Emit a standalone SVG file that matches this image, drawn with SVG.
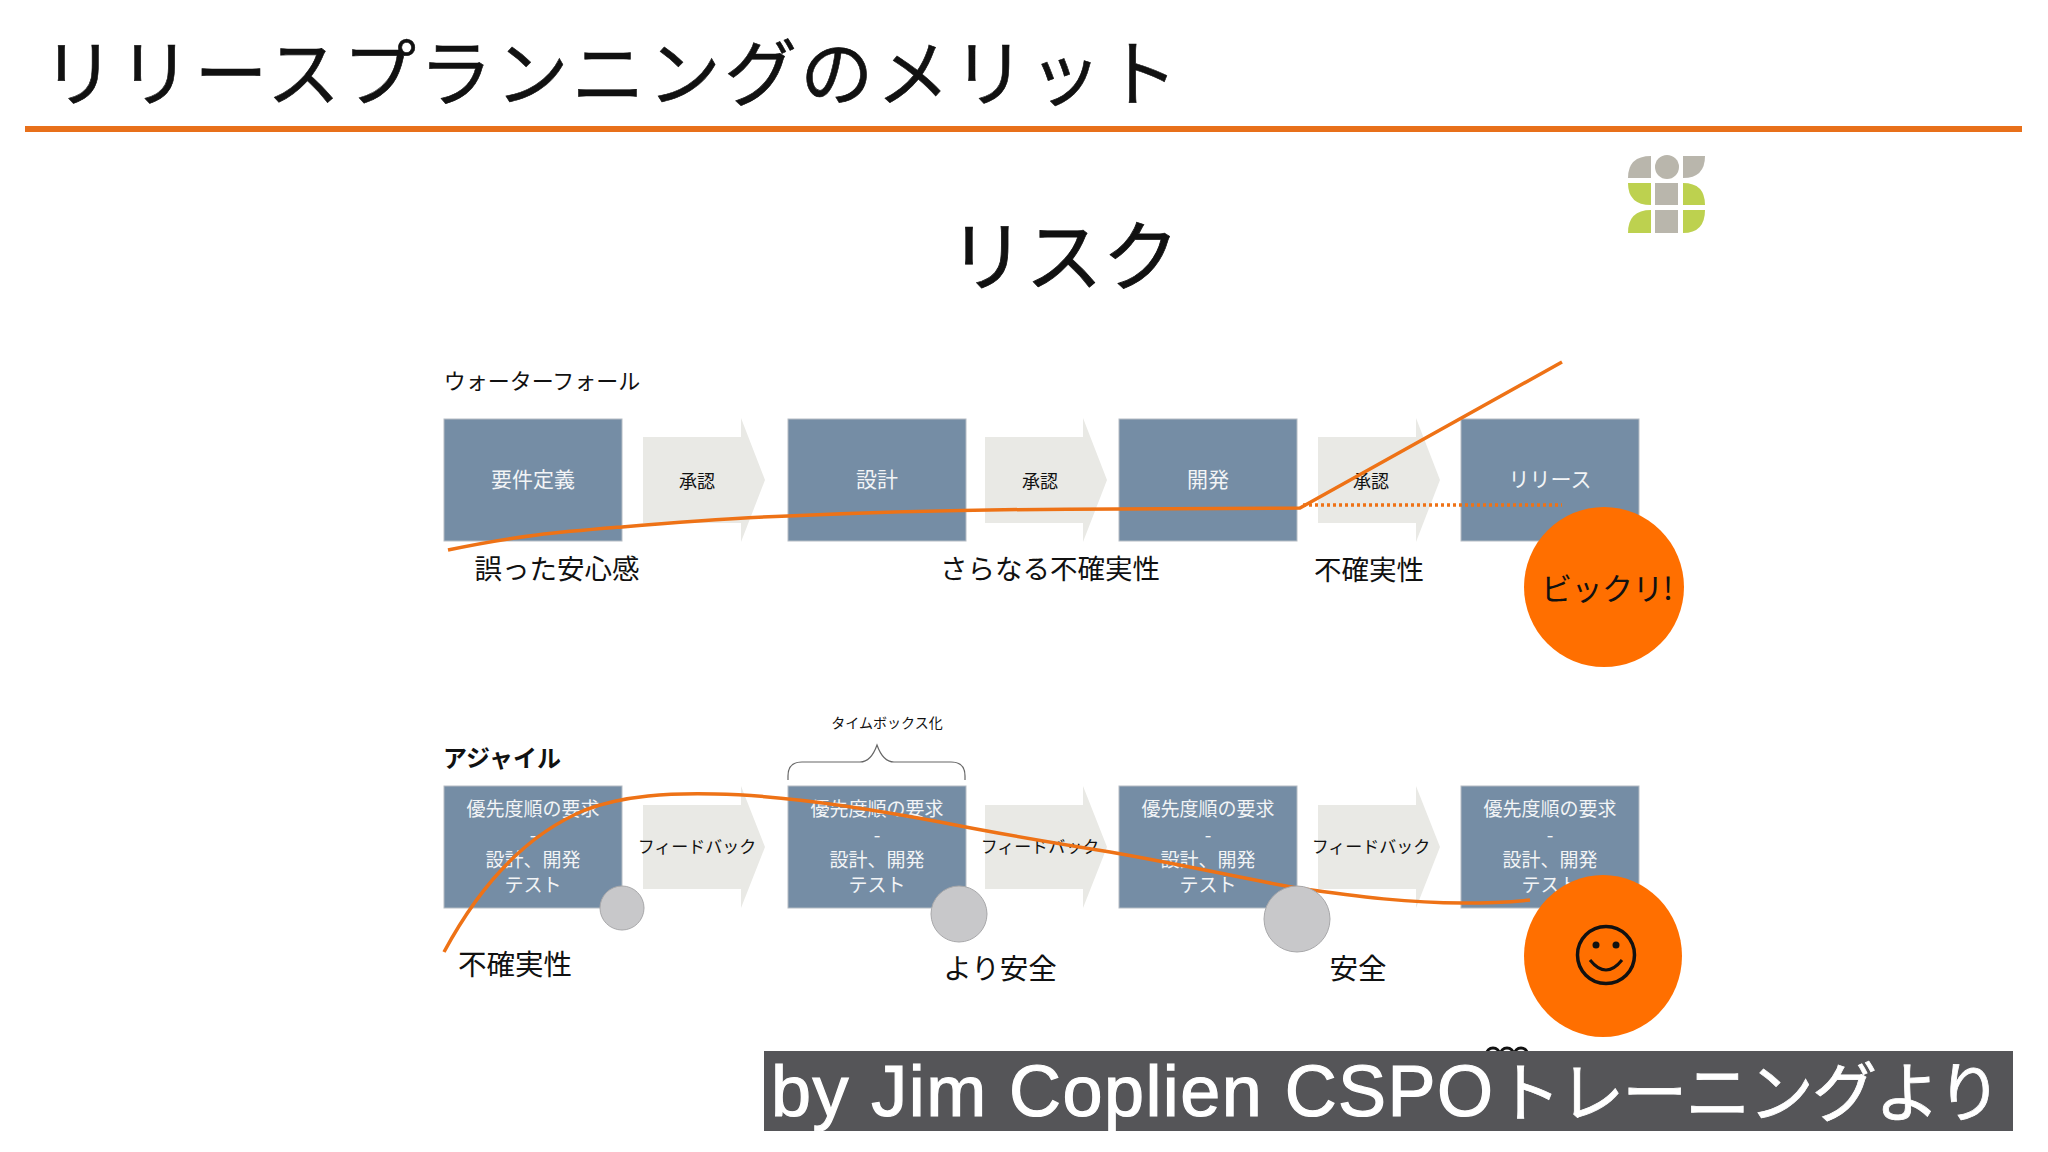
<svg xmlns="http://www.w3.org/2000/svg" width="2048" height="1152" viewBox="0 0 2048 1152">
<style>
text{font-family:"Noto Sans CJK JP","Noto Sans",sans-serif;text-anchor:middle;dominant-baseline:central;fill:#111}
.box{fill:#758da5;stroke:#b5bcc4;stroke-width:1}
.chev{fill:#e9e9e5}
.bt{fill:#f2f4f6;font-size:21px}
.bs{fill:#f2f4f6;font-size:19px}
.a{font-size:18px}
.f{font-size:17px}
.l{font-size:27.5px}
.m{font-size:28.5px}
.gray{fill:#c8c8ca;stroke:#a8a8aa;stroke-width:1}
.big{fill:#ff6f00}
.cv{fill:none;stroke:#ee7216;stroke-width:3.5;stroke-linejoin:round}
.lg{fill:#b9b6ac}
.lc{fill:#bdd14f}
</style>
<defs>
<path id="chev" class="chev" d="M0 19H98V0L122 62L98 124V105H0Z"/>
<path id="chevb" class="chev" d="M0 19H98V0L122 61L98 122V103H0Z"/>
</defs>
<rect width="2048" height="1152" fill="#fff"/>
<g id="title">
<text x="610" y="68" font-size="73" textLength="1136" lengthAdjust="spacing" stroke="#111" stroke-width="0.6">リリースプランニングのメリット</text>
<rect x="25" y="126" width="1997" height="6" fill="#e8701a"/>
</g>
<g id="logo">
<path class="lg" d="M1628 178H1651V156Q1628 156 1628 178Z"/>
<circle class="lg" cx="1667" cy="167" r="12"/>
<path class="lg" d="M1683 156H1705Q1705 178 1683 178Z"/>
<path class="lc" d="M1628 183H1651V205Q1628 205 1628 183Z"/>
<rect class="lg" x="1655" y="183" width="23" height="22"/>
<path class="lc" d="M1683 183Q1705 183 1705 205H1683Z"/>
<path class="lc" d="M1628 233Q1628 210 1651 210V233Z"/>
<rect class="lg" x="1655" y="210" width="23" height="23"/>
<path class="lc" d="M1683 210H1705Q1705 233 1683 233Z"/>
</g>
<g id="risk-heading"><text x="1064" y="251" font-size="77" stroke="#111" stroke-width="0.8">リスク</text></g>
<g id="waterfall-label"><text x="542" y="378.500" font-size="22">ウォーターフォール</text></g>
<g id="wf-1"><rect class="box" x="444" y="419" width="178" height="122"/><text class="bt" x="533" y="478">要件定義</text></g>
<g id="wf-a1"><use href="#chev" x="643" y="418"/><text class="a" x="697" y="480">承認</text></g>
<g id="wf-2"><rect class="box" x="788" y="419" width="178" height="122"/><text class="bt" x="877" y="478">設計</text></g>
<g id="wf-a2"><use href="#chev" x="985" y="418"/><text class="a" x="1040" y="480">承認</text></g>
<g id="wf-3"><rect class="box" x="1119" y="419" width="178" height="122"/><text class="bt" x="1208" y="478">開発</text></g>
<g id="wf-a3"><use href="#chev" x="1318" y="418"/><text class="a" x="1371" y="480">承認</text></g>
<g id="wf-4"><rect class="box" x="1461" y="419" width="178" height="122"/><text class="bt" x="1550" y="478">リリース</text></g>
<g id="agile-label"><text x="502" y="756" font-size="24" font-weight="700">アジャイル</text></g>
<g id="timebox">
<path d="M788 780V776Q788 762 802 762H860Q871 762 877 745Q883 762 894 762H951Q965 762 965 776V780" fill="none" stroke="#666" stroke-width="1.2"/>
<text x="887" y="722" font-size="14">タイムボックス化</text>
</g>
<g id="ag-1"><rect class="box" x="444" y="786" width="178" height="122"/><text class="bs" x="533" y="807">優先度順の要求</text><text class="bs" x="533" y="833">-</text><text class="bs" x="533" y="858">設計、開発</text><text class="bs" x="533" y="883">テスト</text></g>
<g id="ag-a1"><use href="#chevb" x="643" y="786"/><text class="f" x="697" y="845">フィードバック</text></g>
<g id="ag-2"><rect class="box" x="788" y="786" width="178" height="122"/><text class="bs" x="877" y="807">優先度順の要求</text><text class="bs" x="877" y="833">-</text><text class="bs" x="877" y="858">設計、開発</text><text class="bs" x="877" y="883">テスト</text></g>
<g id="ag-a2"><use href="#chevb" x="985" y="786"/><text class="f" x="1040" y="845">フィードバック</text></g>
<g id="ag-3"><rect class="box" x="1119" y="786" width="178" height="122"/><text class="bs" x="1208" y="807">優先度順の要求</text><text class="bs" x="1208" y="833">-</text><text class="bs" x="1208" y="858">設計、開発</text><text class="bs" x="1208" y="883">テスト</text></g>
<g id="ag-a3"><use href="#chevb" x="1318" y="786"/><text class="f" x="1371" y="845">フィードバック</text></g>
<g id="ag-4"><rect class="box" x="1461" y="786" width="178" height="122"/><text class="bs" x="1550" y="807">優先度順の要求</text><text class="bs" x="1550" y="833">-</text><text class="bs" x="1550" y="858">設計、開発</text><text class="bs" x="1550" y="883">テスト</text></g>
<g id="connectors">
<path class="cv" d="M448 550C520 535 560 532 622 527C690 521 730 518 788 516C900 511 1000 509 1119 509L1300 508L1562 362"/>
<path class="cv" d="M1303 505H1562" stroke-dasharray="3 3"/>
<path class="cv" d="M444 952C480 885 525 835 585 810C625 795 670 793 715 794C770 795 850 805 940 822C1010 836 1060 844 1110 852C1190 866 1240 878 1297 888C1360 897 1410 903 1462 903C1490 903 1510 902 1530 900"/>
</g>
<g id="labels">
<text class="l" x="557" y="566.500">誤った安心感</text>
<text class="l" x="1050" y="566.500">さらなる不確実性</text>
<text class="l" x="1369" y="567.500">不確実性</text>
<text class="m" x="515" y="962.500">不確実性</text>
<text class="m" x="1000" y="966.500">より安全</text>
<text class="m" x="1358" y="966.500">安全</text>
</g>
<g id="safety-1"><ellipse class="gray" cx="622" cy="908" rx="22" ry="22"/></g>
<g id="safety-2"><ellipse class="gray" cx="959" cy="914" rx="28" ry="28"/></g>
<g id="safety-3"><ellipse class="gray" cx="1297" cy="919" rx="33" ry="33"/></g>
<g id="surprise"><ellipse class="big" cx="1604" cy="587" rx="80" ry="80"/><text x="1607" y="586" font-size="31" textLength="132" lengthAdjust="spacing">ビックリ!</text></g>
<g id="happy"><ellipse class="big" cx="1603" cy="956" rx="79" ry="81"/>
<circle cx="1606" cy="955" r="28.500" fill="none" stroke="#111" stroke-width="3.500"/>
<circle cx="1596" cy="945" r="3.500" fill="#111"/><circle cx="1616" cy="945" r="3.500" fill="#111"/>
<path d="M1590 960Q1606 980 1622 960" fill="none" stroke="#111" stroke-width="3"/>
</g>
<g id="caption">
<g fill="none" stroke="#111" stroke-width="3"><ellipse cx="1493" cy="1054" rx="6.500" ry="6"/><ellipse cx="1507" cy="1054" rx="6.500" ry="6"/><ellipse cx="1521" cy="1054" rx="6.500" ry="6"/></g>
<rect x="764" y="1051" width="1249" height="80" fill="#555558"/>
<text x="1132" y="1091" font-size="72" style="fill:#fff;font-family:'Liberation Sans','Noto Sans',sans-serif" stroke="#fff" stroke-width="1.2" textLength="722" lengthAdjust="spacing">by Jim Coplien CSPO</text>
<text x="1749" y="1088" font-size="65" style="fill:#fff" stroke="#fff" stroke-width="0.8" textLength="506" lengthAdjust="spacing">トレーニングより</text>
</g>
</svg>
